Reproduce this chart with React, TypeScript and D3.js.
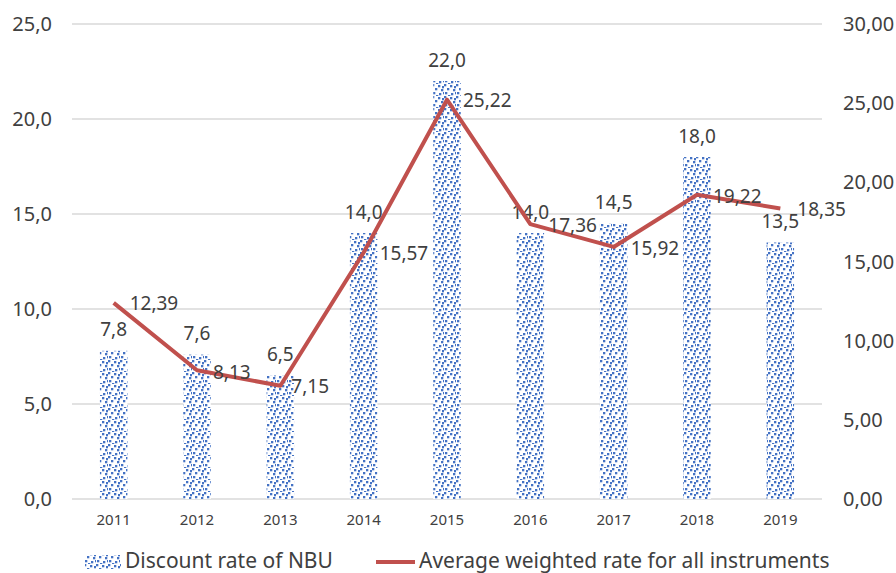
import React, { useEffect, useRef } from "react";
import * as d3 from "d3";

const years = ["2011", "2012", "2013", "2014", "2015", "2016", "2017", "2018", "2019"];
const discountRate = [7.8, 7.6, 6.5, 14.0, 22.0, 14.0, 14.5, 18.0, 13.5];
const weightedRate = [12.39, 8.13, 7.15, 15.57, 25.22, 17.36, 15.92, 19.22, 18.35];
const leftTicks = [0, 5, 10, 15, 20, 25];
const rightTicks = [0, 5, 10, 15, 20, 25, 30];
// label nudges for the line values (dx, dy)
const lineLabelShift = [[16, 1], [16, 2], [11, 1], [16, 1], [16, 1], [18, 1], [17, 1], [16, 2], [17, 1]];

const W = 896;
const H = 573;
const FONT = "'Noto Sans', sans-serif";
const TEXT = "#404040";

const App = () => {
    const ref = useRef<SVGSVGElement>(null);

    useEffect(() => {
        const svg = d3.select(ref.current);
        svg.selectAll("*").remove();

        const left = 72, right = 822, top = 24, bottom = 499;

        const x = d3.scaleBand().domain(years).range([left, right]).paddingInner(0.67).paddingOuter(0.335);
        const xc = (d: string) => x(d)! + x.bandwidth() / 2;
        const y = d3.scaleLinear().domain([0, 25]).range([bottom, top]);
        const y2 = d3.scaleLinear().domain([0, 30]).range([bottom, top]);

        // confetti pattern
        const defs = svg.append("defs");
        const pat = defs.append("pattern")
            .attr("id", "confetti")
            .attr("patternUnits", "userSpaceOnUse")
            .attr("width", 12)
            .attr("height", 12);
        pat.append("rect").attr("width", 12).attr("height", 12).attr("fill", "#fff");
        const dots = [[0, 0], [6, 1], [3, 4], [9, 5], [1, 8], [7, 9], [4, 11], [10, 2], [11, 8]];
        dots.forEach(([dx, dy]) => {
            pat.append("rect").attr("x", dx).attr("y", dy).attr("width", 2.3).attr("height", 2.3).attr("fill", "#4472c4");
        });

        // gridlines
        svg.append("g")
            .selectAll("line")
            .data(leftTicks)
            .join("line")
            .attr("x1", left).attr("x2", right)
            .attr("y1", (d) => y(d)).attr("y2", (d) => y(d))
            .attr("stroke", "#d9d9d9").attr("stroke-width", 1.3);

        // left axis labels
        svg.append("g")
            .selectAll("text")
            .data(leftTicks)
            .join("text")
            .attr("x", 52).attr("y", (d) => y(d))
            .attr("dy", "0.35em").attr("text-anchor", "end")
            .attr("font-family", FONT).attr("font-size", 20).attr("fill", TEXT)
            .text((d) => d3.format(".1f")(d).replace(".", ","));

        // right axis labels
        svg.append("g")
            .selectAll("text")
            .data(rightTicks)
            .join("text")
            .attr("x", 843).attr("y", (d) => y2(d))
            .attr("dy", "0.35em").attr("text-anchor", "start")
            .attr("font-family", FONT).attr("font-size", 20).attr("fill", TEXT)
            .text((d) => d3.format(".2f")(d).replace(".", ","));

        // year labels
        svg.append("g")
            .selectAll("text")
            .data(years)
            .join("text")
            .attr("x", xc).attr("y", bottom + 21)
            .attr("dy", "0.35em").attr("text-anchor", "middle")
            .attr("font-family", FONT).attr("font-size", 15).attr("fill", TEXT)
            .text((d) => d);

        // bars
        svg.append("g")
            .selectAll("rect")
            .data(discountRate)
            .join("rect")
            .attr("x", (d, i) => x(years[i])!)
            .attr("y", (d) => y(d))
            .attr("width", x.bandwidth())
            .attr("height", (d) => y(0) - y(d))
            .attr("fill", "url(#confetti)");

        // bar labels
        svg.append("g")
            .selectAll("text")
            .data(discountRate)
            .join("text")
            .attr("x", (d, i) => xc(years[i]))
            .attr("y", (d) => y(d) - 21)
            .attr("dy", "0.35em").attr("text-anchor", "middle")
            .attr("font-family", FONT).attr("font-size", 19).attr("fill", TEXT)
            .text((d) => d3.format(".1f")(d).replace(".", ","));

        // line
        const line = d3.line<number>()
            .x((d, i) => xc(years[i]))
            .y((d) => y2(d));
        svg.append("path")
            .datum(weightedRate)
            .attr("d", line)
            .attr("fill", "none")
            .attr("stroke", "#c0504d")
            .attr("stroke-width", 4)
            .attr("stroke-linejoin", "round");

        // line labels
        svg.append("g")
            .selectAll("text")
            .data(weightedRate)
            .join("text")
            .attr("x", (d, i) => xc(years[i]) + lineLabelShift[i][0])
            .attr("y", (d, i) => y2(d) + lineLabelShift[i][1])
            .attr("dy", "0.35em").attr("text-anchor", "start")
            .attr("font-family", FONT).attr("font-size", 19).attr("fill", TEXT)
            .text((d) => d3.format(".2f")(d).replace(".", ","));

        // legend
        const lg = svg.append("g");
        lg.append("rect").attr("x", 85).attr("y", 555).attr("width", 36).attr("height", 14).attr("fill", "url(#confetti)");
        lg.append("text")
            .attr("x", 125).attr("y", 568)
            .attr("font-family", FONT).attr("font-size", 21).attr("fill", TEXT)
            .text("Discount rate of NBU");
        lg.append("line")
            .attr("x1", 376).attr("x2", 415).attr("y1", 562).attr("y2", 562)
            .attr("stroke", "#c0504d").attr("stroke-width", 4);
        lg.append("text")
            .attr("x", 419).attr("y", 568)
            .attr("font-family", FONT).attr("font-size", 21).attr("fill", TEXT)
            .text("Average weighted rate for all instruments");
    }, []);

    return (
        <svg ref={ref} width={W} height={H} style={{ position: "absolute", left: 0, top: 0, background: "#fff" }} />
    );
};

export default App;
